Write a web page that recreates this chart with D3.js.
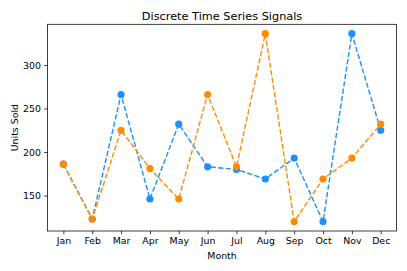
<!DOCTYPE html>
<html>
<head>
<meta charset="utf-8">
<script src="https://cdn.jsdelivr.net/npm/d3@7"></script>
<style>
body { margin: 0; background: #fff; }
text { font-family: "DejaVu Sans", sans-serif; fill: #000; }
</style>
</head>
<body>
<svg width="407" height="271"></svg>
<script>
var months = ["Jan", "Feb", "Mar", "Apr", "May", "Jun", "Jul", "Aug", "Sep", "Oct", "Nov", "Dec"];
var seriesBlue = [186, 123, 266, 146, 232, 183, 180, 169, 193, 120, 336, 225];
var seriesOrange = [186, 123, 225, 181, 146, 266, 183, 336, 120, 169, 193, 232];
var yTicks = [150, 200, 250, 300];

var svg = d3.select("svg"),
    margin = {top: 24.3, right: 10.4, bottom: 40, left: 47.5},
    width = +svg.attr("width") - margin.left - margin.right,
    height = +svg.attr("height") - margin.top - margin.bottom;

var x = d3.scaleLinear().domain([-0.55, 11.55]).range([0, width]),
    y = d3.scaleLinear().domain([109.2, 346.8]).range([height, 0]);

var g = svg.append("g")
    .attr("transform", "translate(" + margin.left + "," + margin.top + ")");

var xAxis = d3.axisBottom(x)
    .tickValues(d3.range(months.length))
    .tickFormat(function(i) { return months[i]; })
    .tickSize(3.3).tickPadding(3.3);
var yAxis = d3.axisLeft(y).tickValues(yTicks).tickSize(3.3).tickPadding(3.3);

var gx = g.append("g").attr("transform", "translate(0," + height + ")").call(xAxis);
var gy = g.append("g").call(yAxis);
[gx, gy].forEach(function(a) {
    a.select(".domain").remove();
    a.selectAll("line").attr("stroke", "#000").attr("stroke-width", 0.75);
    a.selectAll("text").style("font-size", "9.4px").attr("fill", "#000");
});

g.append("rect")
    .attr("width", width).attr("height", height)
    .attr("fill", "none").attr("stroke", "#000").attr("stroke-width", 0.75);

function drawSeries(vals, color) {
    var line = d3.line()
        .x(function(d, i) { return x(i); })
        .y(function(d) { return y(d); });
    g.append("path")
        .datum(vals)
        .attr("fill", "none")
        .attr("stroke", color)
        .attr("stroke-width", 1.41)
        .attr("stroke-dasharray", "5.2,2.26")
        .attr("d", line);
    g.selectAll(null)
        .data(vals)
        .enter().append("circle")
        .attr("cx", function(d, i) { return x(i); })
        .attr("cy", function(d) { return y(d); })
        .attr("r", 3.6)
        .attr("fill", color);
}

drawSeries(seriesBlue, "#1e90ff");
drawSeries(seriesOrange, "#ff8c00");

svg.append("text")
    .attr("x", margin.left + width / 2).attr("y", 19.5)
    .attr("text-anchor", "middle")
    .style("font-size", "11.3px")
    .text("Discrete Time Series Signals");

svg.append("text")
    .attr("x", margin.left + width / 2).attr("y", 258.5)
    .attr("text-anchor", "middle")
    .style("font-size", "9.4px")
    .text("Month");

svg.append("text")
    .attr("transform", "translate(17.5," + (margin.top + height / 2) + ") rotate(-90)")
    .attr("text-anchor", "middle")
    .style("font-size", "9.4px")
    .text("Units Sold");
</script>
</body>
</html>
